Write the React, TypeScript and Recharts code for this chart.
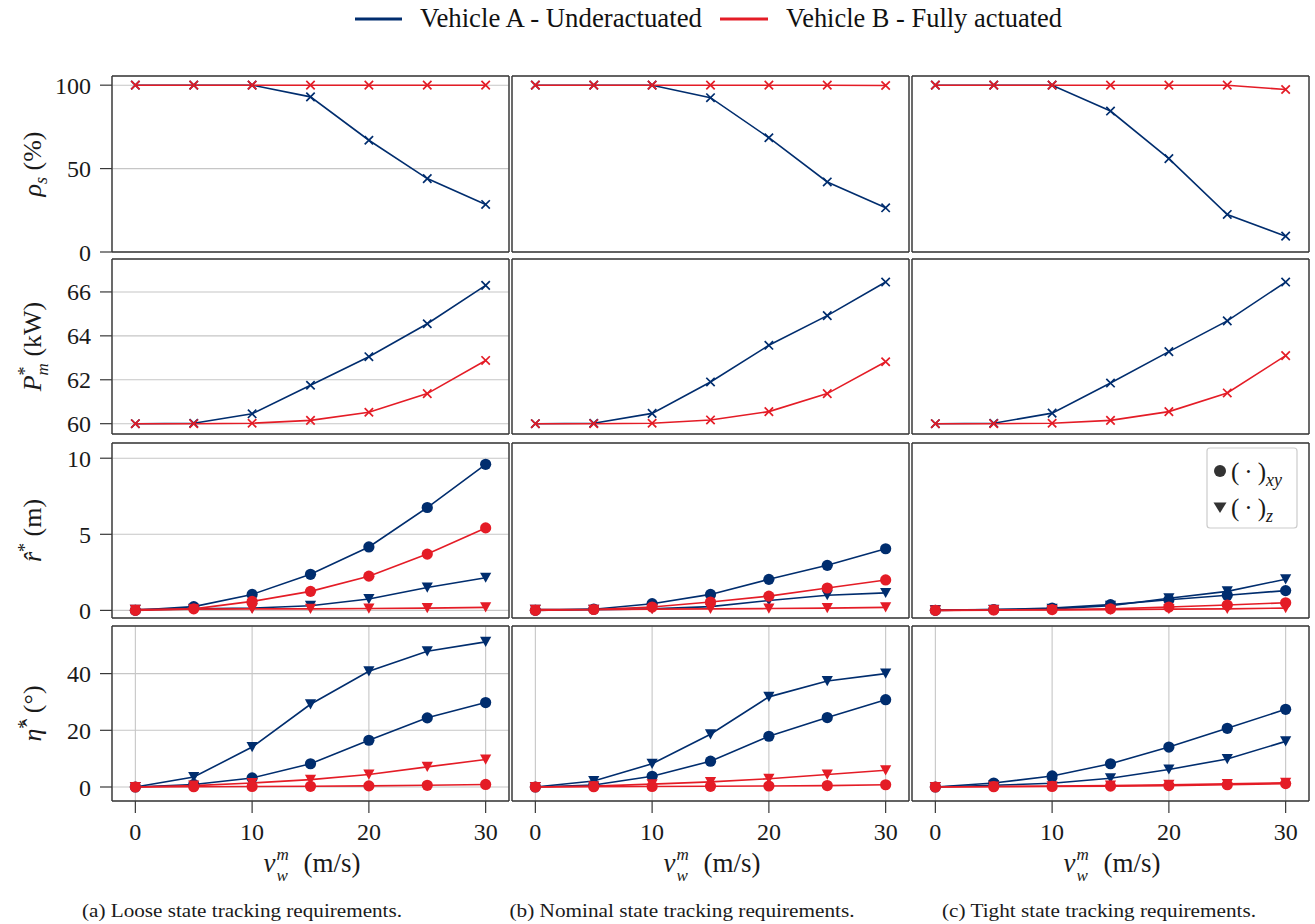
import { LineChart, Line, XAxis, YAxis, CartesianGrid } from "recharts";

// wind speed v_w^m (m/s)
const windSpeeds = [0, 5, 10, 15, 20, 25, 30];
const xTicks = [0, 10, 20, 30];

// success rate rho_s (%)
const rhoA_loose = [100, 100, 100, 93, 67, 44, 28.5];
const rhoB_loose = [100, 100, 100, 100, 100, 100, 100];
const rhoA_nominal = [100, 100, 100, 92.5, 68.5, 42, 26.5];
const rhoB_nominal = [100, 100, 100, 100, 100, 100, 99.8];
const rhoA_tight = [100, 100, 100, 84.5, 56, 22.5, 9.5];
const rhoB_tight = [100, 100, 100, 100, 100, 100, 97.4];

// mean power P*_m (kW)
const powA_loose = [60, 60.02, 60.45, 61.75, 63.05, 64.55, 66.3];
const powB_loose = [60, 60, 60.02, 60.15, 60.52, 61.37, 62.88];
const powA_nominal = [60, 60.02, 60.47, 61.9, 63.57, 64.92, 66.45];
const powB_nominal = [60, 60, 60.02, 60.17, 60.55, 61.37, 62.82];
const powA_tight = [60, 60.02, 60.48, 61.85, 63.28, 64.68, 66.45];
const powB_tight = [60, 60, 60.02, 60.15, 60.55, 61.4, 63.1];

// position error r^* (m)
const posAxy_loose = [0, 0.25, 1.05, 2.37, 4.17, 6.76, 9.6];
const posAz_loose = [0.05, 0.1, 0.15, 0.3, 0.75, 1.5, 2.15];
const posBxy_loose = [0, 0.1, 0.59, 1.25, 2.25, 3.7, 5.42];
const posBz_loose = [0.05, 0.08, 0.1, 0.1, 0.12, 0.15, 0.2];
const posAxy_nominal = [0, 0.08, 0.44, 1.05, 2.04, 2.96, 4.05];
const posAz_nominal = [0.05, 0.05, 0.1, 0.25, 0.65, 1.0, 1.15];
const posBxy_nominal = [0, 0.06, 0.22, 0.55, 0.94, 1.47, 2.0];
const posBz_nominal = [0.05, 0.05, 0.08, 0.1, 0.12, 0.15, 0.2];
const posAxy_tight = [0, 0.05, 0.15, 0.38, 0.7, 1.0, 1.3];
const posAz_tight = [0.02, 0.05, 0.1, 0.3, 0.8, 1.25, 2.05];
const posBxy_tight = [0, 0.03, 0.05, 0.1, 0.22, 0.35, 0.5];
const posBz_tight = [0, 0.02, 0.03, 0.05, 0.08, 0.1, 0.15];

// attitude error eta^* (deg)
const attAxy_loose = [0, 0.9, 3.2, 8.2, 16.5, 24.4, 29.8];
const attAz_loose = [0, 3.5, 14.1, 29.2, 40.8, 47.9, 51.2];
const attBxy_loose = [0, 0.1, 0.2, 0.25, 0.4, 0.6, 0.9];
const attBz_loose = [0, 0.5, 1.4, 2.6, 4.4, 7.1, 9.7];
const attAxy_nominal = [0, 0.7, 3.8, 9.1, 17.9, 24.5, 30.8];
const attAz_nominal = [0, 2.1, 8.2, 18.6, 31.8, 37.4, 40];
const attBxy_nominal = [0, 0.1, 0.2, 0.25, 0.35, 0.5, 0.8];
const attBz_nominal = [0, 0.3, 1.0, 1.8, 2.9, 4.4, 5.9];
const attAxy_tight = [0, 1.4, 3.9, 8.2, 14.1, 20.7, 27.4];
const attAz_tight = [0, 0.6, 1.3, 3.1, 6.2, 9.9, 16.1];
const attBxy_tight = [0, 0.1, 0.2, 0.3, 0.5, 0.8, 1.2];
const attBz_tight = [0, 0.2, 0.3, 0.5, 0.8, 1.1, 1.5];

const rhoTicks = [0, 50, 100];
const powTicks = [60, 62, 64, 66];
const posTicks = [0, 5, 10];
const attTicks = [0, 20, 40];

const captions = [
  "(a) Loose state tracking requirements.",
  "(b) Nominal state tracking requirements.",
  "(c) Tight state tracking requirements.",
];

const NAVY = "#002d6e";
const RED = "#e41c26";
const FRAME = "#383838";
const GRID = "#c6c6c6";
const FONT = '"Liberation Serif", serif';

// layout of the plot frames (page px)
const colLeft = [112, 512, 912];
const PW = 397;
const rowTop = [76, 259, 443, 626];
const rowHeight = [176, 175, 175, 175];
const rowDomains: [number, number][] = [
  [0, 105.5],
  [59.53, 67.5],
  [-0.5, 11],
  [-4.94, 56.8],
];
const rowTicks = [rhoTicks, powTicks, posTicks, attTicks];

type Marker = "cross" | "circle" | "triangle";
interface SeriesDef {
  key: string;
  values: number[];
  color: string;
  marker: Marker;
}

const makeDot = (marker: Marker, color: string, name: string) => (props: any) => {
  const { cx, cy, index } = props;
  const k = `${name}-${index}`;
  if (cx == null || cy == null) return <g key={k} />;
  if (marker === "cross") {
    const d = 4.2;
    return (
      <path
        key={k}
        d={`M${cx - d},${cy - d}L${cx + d},${cy + d}M${cx - d},${cy + d}L${cx + d},${cy - d}`}
        stroke={color}
        strokeWidth={1.7}
        fill="none"
      />
    );
  }
  if (marker === "circle") {
    return <circle key={k} cx={cx} cy={cy} r={5.6} fill={color} />;
  }
  return (
    <path
      key={k}
      d={`M${cx - 5.6},${cy - 5}L${cx + 5.6},${cy - 5}L${cx},${cy + 5.2}Z`}
      fill={color}
    />
  );
};

function Panel({ col, row, series }: { col: number; row: number; series: SeriesDef[] }) {
  // axis sizes double as the space around the plot frame
  const yW = col === 0 ? 112 : 1;
  const xH = row === 3 ? 50 : 1;
  const pad = 2;
  // room below the frame so the lowest y tick label is not cut off
  const extra = col === 0 && row < 3 ? 14 : 0;
  const h = rowHeight[row];
  const data = windSpeeds.map((v, i) => {
    const o: Record<string, number> = { v };
    series.forEach((s) => (o[s.key] = s.values[i]));
    return o;
  });
  const showY = col === 0;
  const showX = row === 3;
  const tickStyle = { fill: "#1a1a1a", fontSize: 24, fontFamily: FONT, style: { fontFamily: FONT } };

  return (
    <div style={{ position: "absolute", left: colLeft[col] - yW, top: rowTop[row] - pad }}>
      <LineChart
        width={PW + yW + pad}
        height={h + pad + xH + extra}
        data={data}
        margin={{ top: pad - 1, right: pad - 1, bottom: extra, left: 0 }}
      >
        <CartesianGrid stroke={GRID} strokeWidth={1.1} />
        <XAxis
          dataKey="v"
          type="number"
          domain={[-2, 32]}
          allowDataOverflow
          ticks={xTicks}
          interval={0}
          height={xH}
          tick={showX ? tickStyle : false}
          tickLine={showX ? { stroke: FRAME, strokeWidth: 1.2 } : false}
          tickSize={12}
          tickMargin={10}
          axisLine={{ stroke: FRAME, strokeWidth: 1.4 }}
        />
        <XAxis
          xAxisId="top"
          orientation="top"
          type="number"
          domain={[-2, 32]}
          allowDataOverflow
          height={1}
          tick={false}
          tickLine={false}
          axisLine={{ stroke: FRAME, strokeWidth: 1.4 }}
        />
        <YAxis
          type="number"
          domain={rowDomains[row]}
          allowDataOverflow
          ticks={rowTicks[row]}
          interval={0}
          width={yW}
          tick={showY ? tickStyle : false}
          tickLine={showY ? { stroke: FRAME, strokeWidth: 1.2 } : false}
          tickSize={12}
          tickMargin={9}
          axisLine={{ stroke: FRAME, strokeWidth: 1.4 }}
        />
        <YAxis
          yAxisId="right"
          orientation="right"
          type="number"
          domain={rowDomains[row]}
          allowDataOverflow
          width={1}
          tick={false}
          tickLine={false}
          axisLine={{ stroke: FRAME, strokeWidth: 1.4 }}
        />
        {series.map((s) => (
          <Line
            key={s.key}
            dataKey={s.key}
            stroke={s.color}
            strokeWidth={1.6}
            dot={makeDot(s.marker, s.color, s.key)}
            activeDot={false}
            isAnimationActive={false}
          />
        ))}
      </LineChart>
    </div>
  );
}

const cols = ["loose", "nominal", "tight"];

const rhoSeries = [
  [rhoA_loose, rhoB_loose],
  [rhoA_nominal, rhoB_nominal],
  [rhoA_tight, rhoB_tight],
];
const powSeries = [
  [powA_loose, powB_loose],
  [powA_nominal, powB_nominal],
  [powA_tight, powB_tight],
];
const posSeries = [
  [posAxy_loose, posAz_loose, posBz_loose, posBxy_loose],
  [posAxy_nominal, posAz_nominal, posBz_nominal, posBxy_nominal],
  [posAxy_tight, posAz_tight, posBz_tight, posBxy_tight],
];
const attSeries = [
  [attAxy_loose, attAz_loose, attBz_loose, attBxy_loose],
  [attAxy_nominal, attAz_nominal, attBz_nominal, attBxy_nominal],
  [attAxy_tight, attAz_tight, attBz_tight, attBxy_tight],
];

function seriesFor(row: number, col: number): SeriesDef[] {
  if (row === 0 || row === 1) {
    const [a, b] = row === 0 ? rhoSeries[col] : powSeries[col];
    return [
      { key: "A", values: a, color: NAVY, marker: "cross" },
      { key: "B", values: b, color: RED, marker: "cross" },
    ];
  }
  const [axy, az, bz, bxy] = row === 2 ? posSeries[col] : attSeries[col];
  return [
    { key: "Axy", values: axy, color: NAVY, marker: "circle" },
    { key: "Az", values: az, color: NAVY, marker: "triangle" },
    { key: "Bz", values: bz, color: RED, marker: "triangle" },
    { key: "Bxy", values: bxy, color: RED, marker: "circle" },
  ];
}

function YLabel({ row }: { row: number }) {
  const cy = rowTop[row] + rowHeight[row] / 2;
  const x = 41;
  let body;
  if (row === 0) {
    body = (
      <>
        <tspan fontStyle="italic">ρ</tspan>
        <tspan fontStyle="italic" fontSize={18} dy={6}>s</tspan>
        <tspan dy={-6}> (%)</tspan>
      </>
    );
  } else if (row === 1) {
    body = (
      <>
        <tspan fontStyle="italic">P</tspan>
        <tspan fontSize={18} dy={-10}>*</tspan>
        <tspan fontStyle="italic" fontSize={17} dx={-9} dy={17}>m</tspan>
        <tspan dy={-7}> (kW)</tspan>
      </>
    );
  } else if (row === 2) {
    body = (
      <>
        <tspan fontStyle="italic">{"r\u0302"}</tspan>
        <tspan fontSize={18} dy={-10}>*</tspan>
        <tspan dy={10}> (m)</tspan>
      </>
    );
  } else {
    body = (
      <>
        <tspan fontStyle="italic">{"\u03b7\u0302"}</tspan>
        <tspan fontSize={18} dy={-10}>*</tspan>
        <tspan dy={10}> (°)</tspan>
      </>
    );
  }
  return (
    <text
      fontSize={26}
      fill="#1a1a1a"
      style={{ fontFamily: FONT }}
      x={x}
      y={cy}
      textAnchor="middle"
      transform={`rotate(-90 ${x} ${cy})`}
    >
      {body}
    </text>
  );
}

function Overlay() {
  return (
    <svg
      width={1315}
      height={924}
      style={{ position: "absolute", left: 0, top: 0, pointerEvents: "none", fontFamily: FONT }}
    >
      {/* top legend */}
      <line x1={355} x2={402} y1={19} y2={19} stroke={NAVY} strokeWidth={2.8} />
      <text x={420} y={27} fontSize={27} fill="#111" textLength={282} lengthAdjust="spacingAndGlyphs">
        Vehicle A - Underactuated
      </text>
      <line x1={720} x2={768} y1={19} y2={19} stroke={RED} strokeWidth={2.8} />
      <text x={786} y={27} fontSize={27} fill="#111" textLength={276} lengthAdjust="spacingAndGlyphs">
        Vehicle B - Fully actuated
      </text>

      {[0, 1, 2, 3].map((r) => (
        <YLabel key={r} row={r} />
      ))}

      {/* x labels and captions */}
      {colLeft.map((l, i) => {
        const cx = l + PW / 2;
        return (
          <g key={i} fill="#1a1a1a">
            <text x={cx - 47} y={872} fontSize={27} fontStyle="italic">v</text>
            <text x={cx - 34} y={860} fontSize={17} fontStyle="italic">m</text>
            <text x={cx - 34} y={881} fontSize={17} fontStyle="italic">w</text>
            <text x={cx - 7} y={872} fontSize={27}>(m/s)</text>
            <text
              x={[242, 682, 1099][i]}
              y={917}
              textAnchor="middle"
              fontSize={19}
              textLength={[320, 345, 314][i]}
              lengthAdjust="spacingAndGlyphs"
            >
              {captions[i]}
            </text>
          </g>
        );
      })}

      {/* marker legend in tight / position panel */}
      <rect x={1207} y={448} width={90} height={80} rx={3} fill="#fff" fillOpacity={0.9} stroke="#cccccc" strokeWidth={1.2} />
      <circle cx={1220} cy={471} r={6} fill="#333" />
      <text x={1231} y={480} fontSize={25} fill="#1a1a1a">
        {"(\u2009·\u2009)"}
        <tspan fontStyle="italic" fontSize={18} dy={6}>xy</tspan>
      </text>
      <path d="M1213.5,502.5L1226.5,502.5L1220,513Z" fill="#333" />
      <text x={1231} y={516} fontSize={25} fill="#1a1a1a">
        {"(\u2009·\u2009)"}
        <tspan fontStyle="italic" fontSize={18} dy={6}>z</tspan>
      </text>
    </svg>
  );
}

export default function App() {
  return (
    <div
      style={{
        position: "absolute",
        left: 0,
        top: 0,
        width: 1315,
        height: 924,
        background: "#fff",
        fontFamily: FONT,
      }}
    >
      {[0, 1, 2, 3].map((row) =>
        cols.map((c, col) => <Panel key={`${row}-${c}`} row={row} col={col} series={seriesFor(row, col)} />)
      )}
      <Overlay />
    </div>
  );
}
